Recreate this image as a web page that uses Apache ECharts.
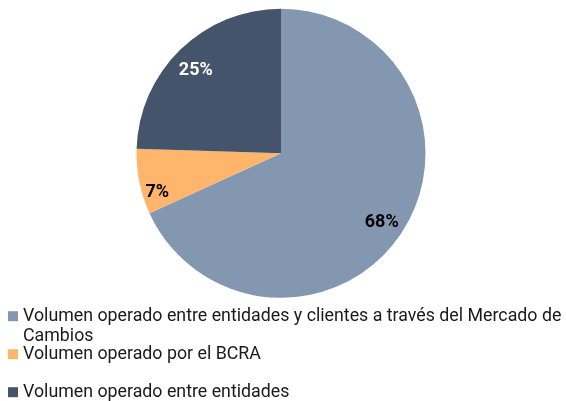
<!DOCTYPE html>
<html>
<head>
<meta charset="utf-8">
<script src="https://cdn.jsdelivr.net/npm/echarts@6/dist/echarts.min.js"></script>
<style>html,body{margin:0;padding:0;background:#fff}#c{width:566px;height:401px}</style>
</head>
<body>
<div id="c"></div>
<script>
const categories = [
  'Volumen operado entre entidades y clientes a través del Mercado de Cambios',
  'Volumen operado por el BCRA',
  'Volumen operado entre entidades'
];
const legendLines = [
  ['Volumen operado entre entidades y clientes a través del Mercado de', 'Cambios'],
  ['Volumen operado por el BCRA', ' '],
  ['Volumen operado entre entidades', ' ']
];
const values = [68.2, 7.3, 24.5];
const colors = ['#8497B0', '#FFB66C', '#44546A'];
const labelColors = ['#000000', '#000000', '#ffffff'];

const chart = echarts.init(document.getElementById('c'));
const data = categories.map((n, i) => ({ name: n, value: values[i], itemStyle: { color: colors[i] } }));
const labelData = categories.map((n, i) => ({
  name: n, value: values[i],
  label: i === 1 ? { color: labelColors[i], offset: [-5, 15] } : { color: labelColors[i] }
}));
const LH = 20.5;
chart.setOption({
  animation: false,
  legend: {
    orient: 'vertical',
    left: 8,
    top: 316.2 - 1.5 * LH,
    height: 300,
    padding: 0,
    itemWidth: 10,
    itemHeight: 10,
    itemGap: 38 - 3 * LH,
    icon: 'rect',
    selectedMode: false,
    data: categories,
    formatter: function (name) {
      const i = categories.indexOf(name);
      return ' \n' + legendLines[i][0] + '\n' + legendLines[i][1];
    },
    textStyle: { fontFamily: 'Roboto', fontSize: 17.8, color: '#1a1a1a', lineHeight: LH }
  },
  series: [
    {
      type: 'pie',
      center: [281, 153.3],
      radius: [0, 144.5],
      startAngle: 90,
      clockwise: true,
      label: { show: false },
      labelLine: { show: false },
      silent: true,
      data: data
    },
    {
      type: 'pie',
      center: [281, 153.3],
      radius: [91.5, 144.5],
      startAngle: 90,
      clockwise: true,
      percentPrecision: 0,
      silent: true,
      itemStyle: { color: 'rgba(0,0,0,0)' },
      labelLine: { show: false },
      label: {
        show: true, position: 'inside', formatter: '{d}%', offset: [-1, 4],
        fontFamily: 'Roboto', fontWeight: 'bold', fontSize: 18
      },
      data: labelData
    }
  ]
});
</script>
</body>
</html>
